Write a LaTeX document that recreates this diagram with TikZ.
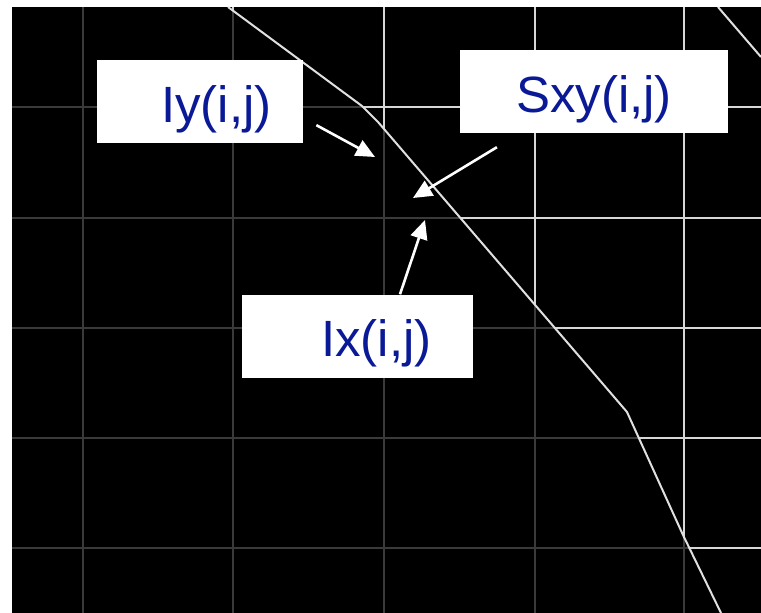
\documentclass[tikz,border=0pt]{standalone}
\usepackage{fontspec}
\setmainfont{Liberation Sans}
\usetikzlibrary{arrows.meta}
\definecolor{LabBlue}{RGB}{10,25,150}
\definecolor{GridDim}{RGB}{58,58,58}
\definecolor{GridLit}{RGB}{215,215,215}
\tikzset{
  gdim/.style={draw=GridDim,line width=2pt},
  glit/.style={draw=GridLit,line width=2pt},
  seam/.style={draw=white!88!black,line width=2pt},
  tag/.style={fill=white,text=LabBlue,font=\fontsize{51}{51}\selectfont,inner sep=0pt,
    minimum height=83pt,text height=45pt,text depth=4pt},
}
\tikzset{arr/.style={draw=white,line width=2.6pt,-{Triangle[length=19pt,width=17pt]}}}

\begin{document}
\begin{tikzpicture}[x=1pt,y=-1pt]
\useasboundingbox (0,0) rectangle (761,613);
\fill[black] (12,7) rectangle (761,613);
% grid, dim below the seam and lit above it
\foreach \x in {83,233,384,535,684}{\draw[gdim](\x,7)--(\x,613);}
\foreach \y in {107,218,328,438,548}{\draw[gdim](12,\y)--(761,\y);}
\begin{scope}
\clip (228,7)--(362,106)--(378,122)--(627,412)--(683,535)--(721,613)--(761,613)--(761,7)--cycle;
\foreach \x in {83,233,384,535,684}{\draw[glit](\x,7)--(\x,613);}
\foreach \y in {107,218,328,438,548}{\draw[glit](12,\y)--(761,\y);}
\end{scope}
\draw[seam](228,7)--(362,106)--(378,122)--(627,412)--(683,535)--(721,613);
\draw[seam](718,7)--(761,57);
% labels
\node[tag,minimum width=206pt](iy)at(200,101.5){\hspace*{33pt}Iy(i,j)};
\node[tag,minimum width=268pt](sxy)at(594,91.5){Sxy(i,j)};
\node[tag,minimum width=231pt](ix)at(357.5,336){\hspace*{38pt}Ix(i,j)};
\coordinate(iytip)at(375,157);
\coordinate(sxytip)at(413,198);
\coordinate(ixtip)at(425,220);
\draw[arr,shorten <=15pt]([yshift=-16.5pt]iy.east)--(iytip);
\draw[arr,shorten <=27pt]([xshift=-74pt]sxy.south)--(sxytip);
\draw[arr]([xshift=42.5pt]ix.north)--(ixtip);
\end{tikzpicture}
\end{document}
